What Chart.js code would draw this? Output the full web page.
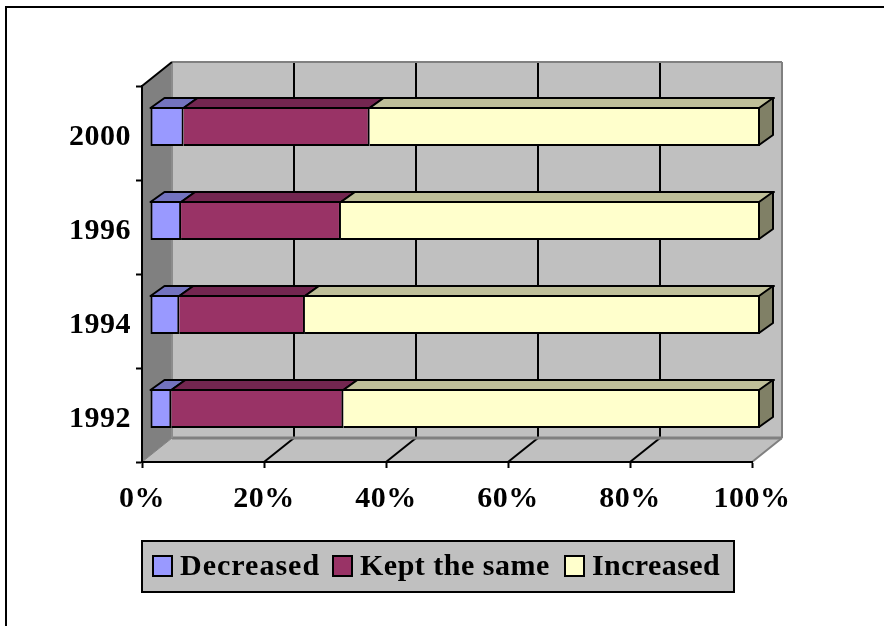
<!DOCTYPE html>
<html>
<head>
<meta charset="utf-8">
<title>Survey responses by year</title>
<script src="https://cdn.jsdelivr.net/npm/chart.js@4"></script>
<style>
    html, body { margin: 0; padding: 0; background: #fff; }
    canvas { display: block; }
</style>
</head>
<body>
<canvas id="chart" width="884" height="626"></canvas>
<script>
// Данные графика
const years = ['1992', '1994', '1996', '2000'];
const decreased = [3.5, 4.8, 5.1, 5.5];
const keptSame = [28.2, 20.6, 26.2, 30.5];
const increased = [68.3, 74.6, 68.7, 64.0];
const seriesNames = ['Decreased', 'Kept the same', 'Increased'];

// Цвета: лицевая грань, верхняя грань, боковая грань
const faceColors = ['#9999ff', '#993366', '#ffffcc'];
const topColors = ['#7373bf', '#732650', '#bfbf99'];
const sideColor = '#808066';

const WALL = '#c0c0c0';
const EDGE = '#808080';
const FONT_NAME = '"Liberation Serif", "Times New Roman", serif';

// Глубина короба и смещение столбцов внутри него
const boxDepth = { x: 30, y: 24 };
const barDepth = { x: 14, y: 10 };
const barShift = { x: 8, y: -6.5 };

// Позиции ключей легенды и межбуквенный интервал подписей
const legendKeyX = [152, 332, 564];
const legendSpacing = ['1px', '0.5px', '0.4px'];

function polygon(ctx, pts, fill, stroke, width) {
    ctx.beginPath();
    pts.forEach((p, i) => i ? ctx.lineTo(p[0], p[1]) : ctx.moveTo(p[0], p[1]));
    ctx.closePath();
    if (fill) {
        ctx.fillStyle = fill;
        ctx.fill();
    }
    if (stroke) {
        ctx.strokeStyle = stroke;
        ctx.lineWidth = width;
        ctx.lineJoin = 'round';
        ctx.stroke();
    }
}

function line(ctx, x1, y1, x2, y2, color, width) {
    ctx.beginPath();
    ctx.moveTo(x1, y1);
    ctx.lineTo(x2, y2);
    ctx.strokeStyle = color;
    ctx.lineWidth = width;
    ctx.stroke();
}

// Стены короба, сетка и рамка вокруг всего графика
function drawBox(chart) {
    const ctx = chart.ctx;
    const { left, right, top, bottom } = chart.chartArea;
    const dx = boxDepth.x, dy = boxDepth.y;

    ctx.save();
    line(ctx, 5, 7, chart.width, 7, '#000', 2);
    line(ctx, 6, 6, 6, chart.height, '#000', 2);

    polygon(ctx, [[left + dx, top - dy], [right + dx, top - dy], [right + dx, bottom - dy], [left + dx, bottom - dy]], WALL);
    polygon(ctx, [[left, bottom], [left + dx, bottom - dy], [right + dx, bottom - dy], [right, bottom]], WALL);
    polygon(ctx, [[left, top], [left + dx, top - dy], [left + dx, bottom - dy], [left, bottom]], EDGE);

    // Линии сетки идут по задней стене и по полу
    [20, 40, 60, 80].forEach(v => {
        const x = chart.scales.x.getPixelForValue(v);
        line(ctx, x + dx, top - dy, x + dx, bottom - dy, '#000', 2);
        line(ctx, x, bottom, x + dx, bottom - dy, '#000', 2);
    });

    line(ctx, left + dx, top - dy, right + dx, top - dy, EDGE, 2);
    line(ctx, right + dx, top - dy, right + dx, bottom - dy, EDGE, 2);
    line(ctx, left + dx, bottom - dy, right + dx, bottom - dy, EDGE, 3);
    line(ctx, right, bottom, right + dx, bottom - dy, EDGE, 2);
    line(ctx, left, bottom, left + dx, bottom - dy, EDGE, 1);
    line(ctx, left + dx, top - dy, left + dx, bottom - dy, '#8c8c8c', 2);
    line(ctx, left, top, left + dx, top - dy, '#000', 2);
    ctx.restore();
}

// Верхние и боковые грани столбцов
function drawBarSides(chart) {
    const ctx = chart.ctx;
    const dx = barDepth.x, dy = barDepth.y;
    const last = chart.data.datasets.length - 1;

    chart.data.datasets.forEach((ds, i) => {
        chart.getDatasetMeta(i).data.forEach(bar => {
            const t = bar.y - bar.height / 2 + 1;
            const b = bar.y + bar.height / 2 - 1;
            polygon(ctx, [[bar.base, t], [bar.base + dx, t - dy], [bar.x + dx, t - dy], [bar.x, t]], topColors[i], '#000', 2);
            if (i === last) {
                const e = bar.x - 1;
                polygon(ctx, [[e, t], [e + dx, t - dy], [e + dx, b - dy], [e, b]], sideColor, '#000', 2);
            }
        });
    });
}

// Легенда в серой рамке
function drawLegend(chart) {
    const ctx = chart.ctx;
    ctx.save();
    ctx.fillStyle = WALL;
    ctx.fillRect(142, 541, 592, 51);
    ctx.strokeStyle = '#000';
    ctx.lineWidth = 2;
    ctx.strokeRect(142, 541, 592, 51);

    ctx.font = 'bold 30px ' + FONT_NAME;
    ctx.textBaseline = 'middle';
    seriesNames.forEach((name, i) => {
        const x = legendKeyX[i];
        ctx.fillStyle = faceColors[i];
        ctx.fillRect(x + 1, 556, 19, 20);
        ctx.strokeRect(x + 1, 556, 19, 20);
        ctx.fillStyle = '#000';
        ctx.letterSpacing = legendSpacing[i];
        ctx.fillText(name, x + 28, 567);
    });
    ctx.restore();
}

const boxPlugin = {
    id: 'box3d',
    beforeLayout(chart) {
        chart.ctx.letterSpacing = '0.5px';
    },
    beforeDraw(chart) {
        chart.ctx.letterSpacing = '0.5px';
        drawBox(chart);
    },
    beforeDatasetsDraw(chart) {
        const ctx = chart.ctx;
        ctx.save();
        ctx.translate(barShift.x, barShift.y);
        drawBarSides(chart);
    },
    afterDatasetsDraw(chart) {
        chart.ctx.restore();
        drawLegend(chart);
    }
};

function makeDataset(label, data, i) {
    return {
        label: label,
        data: data,
        backgroundColor: faceColors[i],
        borderColor: '#000',
        borderWidth: i === 0 ? 2 : { top: 2, right: 2, bottom: 2, left: 0 },
        borderSkipped: false,
        inflateAmount: 0,
        barThickness: 39,
        clip: false
    };
}

new Chart(document.getElementById('chart'), {
    type: 'bar',
    data: {
        labels: years,
        datasets: [
            makeDataset(seriesNames[0], decreased, 0),
            makeDataset(seriesNames[1], keptSame, 1),
            makeDataset(seriesNames[2], increased, 2)
        ]
    },
    plugins: [boxPlugin],
    options: {
        indexAxis: 'y',
        responsive: false,
        animation: false,
        layout: { padding: { top: 86, right: 132, bottom: 0, left: 0 } },
        plugins: {
            legend: { display: false },
            tooltip: { enabled: false }
        },
        scales: {
            x: {
                stacked: true,
                min: 0,
                max: 100,
                afterFit(scale) { scale.height = 164; },
                grid: { drawOnChartArea: false, tickLength: 6, tickWidth: 2, tickColor: '#000' },
                border: { color: '#000', width: 2 },
                ticks: {
                    stepSize: 20,
                    maxRotation: 0,
                    autoSkip: false,
                    padding: 13,
                    color: '#000',
                    font: { family: FONT_NAME, size: 30, weight: 'bold' },
                    callback: v => v + '%'
                }
            },
            y: {
                stacked: true,
                reverse: true,
                afterFit(scale) { scale.width = 142; },
                grid: { drawOnChartArea: false, tickLength: 6, tickWidth: 2, tickColor: '#000' },
                border: { color: '#000', width: 2 },
                ticks: {
                    padding: 5,
                    color: '#000',
                    labelOffset: 4,
                    font: { family: FONT_NAME, size: 30, weight: 'bold' }
                }
            }
        }
    }
});
</script>
</body>
</html>
